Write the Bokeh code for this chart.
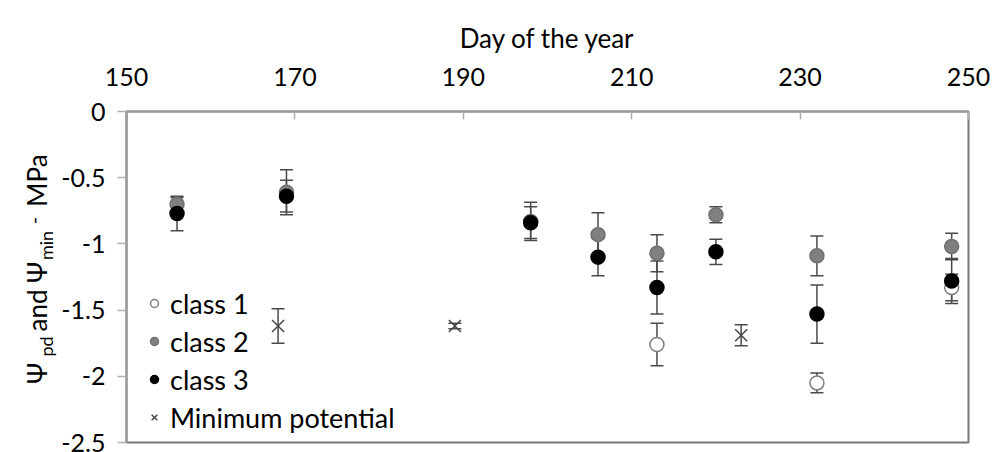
import math
from bokeh.plotting import figure
from bokeh.layouts import row
from bokeh.models import (ColumnDataSource, Whisker, TeeHead, FixedTicker,
                          Legend, LegendItem, Range1d)
from bokeh.core.properties import value
from bokeh.embed import file_html
from bokeh.resources import INLINE

# ---------------- data ----------------
x_ticks = [150, 170, 190, 210, 230, 250]
y_ticks = [0, -0.5, -1, -1.5, -2, -2.5]
y_tick_labels = ["0", "-0.5", "-1", "-1.5", "-2", "-2.5"]

class1_days = [213, 232, 248]
class1_vals = [-1.76, -2.05, -1.33]
class1_err = [0.16, 0.075, 0.10]

class2_days = [156, 169, 198, 206, 213, 220, 232, 248]
class2_vals = [-0.70, -0.61, -0.83, -0.93, -1.07, -0.78, -1.09, -1.02]
class2_err = [0.05, 0.17, 0.145, 0.165, 0.14, 0.06, 0.15, 0.10]

class3_days = [156, 169, 198, 206, 213, 220, 232, 248]
class3_vals = [-0.77, -0.64, -0.84, -1.10, -1.33, -1.06, -1.53, -1.28]
class3_err = [0.13, 0.12, 0.12, 0.14, 0.20, 0.095, 0.22, 0.17]

min_days = [168, 189, 223]
min_vals = [-1.62, -1.62, -1.69]
min_err = [0.13, 0.02, 0.08]

FONT = "Lato"
W = 993
H = 452
LAB_W = 58

def src(days, vals, errs):
    return ColumnDataSource(dict(x=days, y=vals,
                                 lower=[v - e for v, e in zip(vals, errs)],
                                 upper=[v + e for v, e in zip(vals, errs)]))

# ---------------- main plot ----------------
p = figure(width=W - LAB_W, height=H, output_backend="svg", toolbar_location=None,
           x_range=Range1d(150, 250), y_range=Range1d(-2.5, 0),
           x_axis_location="above",
           min_border_left=124 - LAB_W, min_border_right=25,
           min_border_top=111, min_border_bottom=10)
p.frame_align = False
p.xgrid.visible = False
p.ygrid.visible = False
p.outline_line_color = "#777777"
p.outline_line_width = 2
p.background_fill_color = "white"
p.border_fill_color = "white"

xa = p.xaxis[0]
xa.ticker = FixedTicker(ticks=x_ticks)
xa.minor_tick_line_color = None
xa.major_tick_in = 8
xa.major_tick_out = 0
xa.axis_line_color = "#9a9a9a"
xa.axis_line_width = 2
xa.major_tick_line_color = "#b0b0b0"
xa.major_tick_line_width = 1.5
xa.major_label_text_font = FONT
xa.major_label_text_font_size = "25px"
xa.major_label_text_color = "black"
xa.major_label_standoff = 26
xa.axis_label = "Day of the year"
xa.axis_label_text_font = FONT
xa.axis_label_text_font_size = "26px"
xa.axis_label_text_font_style = "normal"
xa.axis_label_text_color = "black"
xa.axis_label_standoff = 11

ya = p.yaxis[0]
ya.ticker = FixedTicker(ticks=y_ticks)
ya.major_label_overrides = {t: s for t, s in zip(y_ticks, y_tick_labels)}
ya.minor_tick_line_color = None
ya.major_tick_in = 0
ya.major_tick_out = 9
ya.axis_line_color = "#9a9a9a"
ya.axis_line_width = 2
ya.major_tick_line_color = "#b0b0b0"
ya.major_tick_line_width = 1.5
ya.major_label_text_font = FONT
ya.major_label_text_font_size = "25px"
ya.major_label_text_color = "black"
ya.major_label_standoff = 12

series = [
    (class1_days, class1_vals, class1_err, "circle", "white", "#7f7f7f", 14),
    (class2_days, class2_vals, class2_err, "circle", "#808080", "#707070", 14),
    (class3_days, class3_vals, class3_err, "circle", "black", "black", 14),
    (min_days, min_vals, min_err, "x", None, "#454545", 17),
]
renderers = []
for days, vals, errs, marker, fill, line, size in series:
    s = src(days, vals, errs)
    w = Whisker(base="x", lower="lower", upper="upper", source=s, dimension="height",
                line_color="#4a4a4a", line_width=1.5, level="underlay",
                upper_head=TeeHead(size=13, line_color="#4a4a4a", line_width=1.5),
                lower_head=TeeHead(size=13, line_color="#4a4a4a", line_width=1.5))
    p.add_layout(w)
    r = p.scatter("x", "y", source=s, marker=marker, size=size,
                  fill_color=fill, line_color=line, line_width=1.5)
    renderers.append(r)

legend = Legend(items=[LegendItem(label="class 1", renderers=[renderers[0]]),
                       LegendItem(label="class 2", renderers=[renderers[1]]),
                       LegendItem(label="class 3", renderers=[renderers[2]]),
                       LegendItem(label="Minimum potential", renderers=[renderers[3]])],
                location=(18, 6))
legend.background_fill_alpha = 0
legend.border_line_alpha = 0
legend.padding = 0
legend.spacing = 0
legend.margin = 0
legend.label_height = 38
legend.glyph_height = 38
legend.glyph_width = 20
legend.label_standoff = 6
legend.label_text_font = FONT
legend.label_text_font_size = "27px"
legend.label_text_color = "black"
p.add_layout(legend)

# ---------------- y-axis title strip (rotated text with subscripts) ----------------
lab = figure(width=LAB_W, height=H, output_backend="svg", toolbar_location=None,
             x_range=Range1d(0, LAB_W), y_range=Range1d(0, H),
             x_axis_location=None, y_axis_location=None,
             min_border=0, min_border_left=0, min_border_right=0,
             min_border_top=0, min_border_bottom=0)
lab.frame_align = False
lab.grid.visible = False
lab.outline_line_color = None
lab.background_fill_color = "white"
lab.border_fill_color = "white"

main_base = 36
sub_base = 45
pieces = [
    ("Ψ", main_base, H - 373, "26px"),
    ("pd", sub_base, H - 346, "18px"),
    ("and", main_base, H - 310, "26px"),
    ("Ψ", main_base, H - 272, "26px"),
    ("min", sub_base, H - 245, "18px"),
    ("-", main_base - 3, H - 220, "20px"),
    ("MPa", main_base, H - 180, "26px"),
]
for txt, bx, cy, fs in pieces:
    lab.text(x=[bx], y=[cy], text=[txt], angle=math.pi / 2,
             text_font=value(FONT), text_font_size=value(fs), text_color="black",
             text_align="center", text_baseline="alphabetic")

layout = row(lab, p)
open("out.html", "w").write(file_html(layout, INLINE))
